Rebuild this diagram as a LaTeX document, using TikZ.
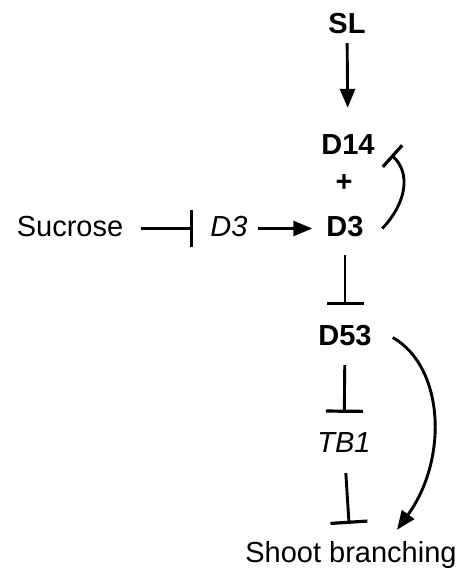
\documentclass[tikz,border=0pt]{standalone}
\usepackage{fontspec}
\setmainfont{Liberation Sans}
\usetikzlibrary{arrows.meta}

\begin{document}
\begin{tikzpicture}[x=1pt,y=-1pt]
  % Define styles for nodes and connectors
  \tikzstyle{gene} = [anchor=base, inner sep=0pt, text height=21pt,
  text depth=6pt, font=\fontsize{29}{34}\selectfont]
  \tikzstyle{protein} = [gene, font=\fontsize{29}{34}\selectfont\bfseries]
  \tikzstyle{activate} = [line width=2.9pt,
  -{Triangle[length=19pt,width=15pt]}]
  \tikzstyle{inhibit} = [line width=2.9pt,
  -{Bar[width=37pt,line width=3.2pt]}]

  \useasboundingbox (0,0) rectangle (467,571);

  % Main column
  \node[protein] (SL) at (347,33) {SL};
  \node[protein] (D14) at (348,154) {D14};
  \node[anchor=center, font=\fontsize{29}{34}\selectfont\bfseries] (plus) at (344,183) {+};
  \node[protein] (D3p) at (345,236) {D3};
  \node[protein] (D53) at (345,345) {D53};
  \node[gene, font=\fontsize{29}{34}\selectfont\itshape] (TB1) at (344,452) {TB1};
  \node[gene] (branch) at (351,562) {Shoot branching};

  % Sucrose row
  \node[gene] (sucrose) at (70,236) {Sucrose};
  \node[gene, font=\fontsize{29}{34}\selectfont\itshape] (D3g) at (229,236) {D3};

  % Connections
  \draw[activate, shorten <=4pt, shorten >=25pt] (SL) -- (D14);
  \draw[inhibit, shorten <=18pt, shorten >=17pt] (sucrose) -- (D3g);
  \draw[activate, shorten <=10pt, shorten >=14pt] (D3g) -- (D3p);
  \draw[inhibit, shorten <=13pt, shorten >=19pt] (D3p) -- (D53);
  \draw[inhibit, shorten <=14pt, shorten >=18pt] (D53) -- (TB1);
  \draw[inhibit, shorten <=15pt, shorten >=17pt] (TB1) -- (branch);

  % Curved connectors
  \draw[inhibit, -{Bar[width=29pt,line width=3.2pt]}]
  ([xshift=18.5pt]D3p.east) .. controls +(24,-25) and +(20,18) ..
  ([xshift=16.5pt,yshift=-8.5pt]D14.east);
  \draw[activate]
  ([xshift=21pt]D53.east) .. controls +(52,30) and +(51,-70) ..
  ([xshift=46pt,yshift=11pt]branch.north);
\end{tikzpicture}
\end{document}
